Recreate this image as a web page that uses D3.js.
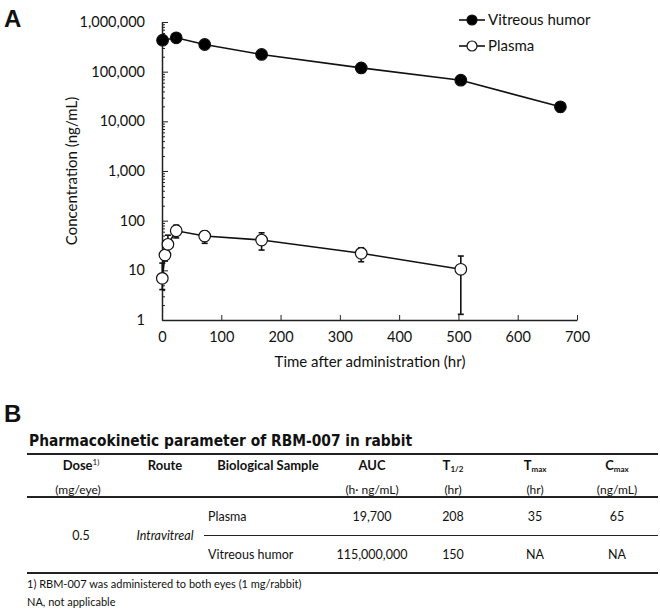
<!DOCTYPE html>
<html><head><meta charset="utf-8">
<script src="https://cdn.jsdelivr.net/npm/d3@7"></script>
<style>body{margin:0;background:#fff}svg{display:block}text{font-family:Lato,"Open Sans",sans-serif;fill:#111}</style>
</head><body>
<svg id="c" width="660" height="610"></svg>
<script>
// ---- data ----
const vitreousTime = [1, 24, 72, 168, 336, 504, 672];
const vitreousConc = [430000, 480000, 352000, 222000, 119000, 67400, 19600];
const vitreousLow  = [430000, 480000, 352000, 222000, 119000, 67400, 15500];
const vitreousHigh = [430000, 480000, 352000, 222000, 119000, 67400, 23000];

const plasmaTime = [0.5, 5, 10, 24, 72, 168, 336, 504];
const plasmaConc = [6.9, 20.3, 33.4, 62.6, 49, 40.7, 22, 10.5];
const plasmaLow  = [4.1, 15.4, 22, 45, 35, 25.6, 14.9, 1.3];
const plasmaHigh = [14, 30, 51, 81, 62, 57, 28.5, 19.4];

const xTicks = [0, 100, 200, 300, 400, 500, 600, 700];
const yTicks = [1, 10, 100, 1000, 10000, 100000, 1000000];
const seriesNames = ["Vitreous humor", "Plasma"];

const tableTitle = "Pharmacokinetic parameter of RBM-007 in rabbit";
const tableSamples = ["Plasma", "Vitreous humor"];
const tableAUC = ["19,700", "115,000,000"];
const tableT12 = ["208", "150"];
const tableTmax = ["35", "NA"];
const tableCmax = ["65", "NA"];
const footnotes = ["1) RBM-007 was administered to both eyes (1 mg/rabbit)", "NA, not applicable"];

// ---- chart ----
const svg = d3.select("#c");
const x = d3.scaleLinear().domain([0, 700]).range([162, 577]);
const y = d3.scaleLog().domain([1, 1e6]).range([320, 22]);

svg.append("text").attr("x", 4).attr("y", 27).attr("font-size", 24).attr("font-weight", "bold")
  .style("font-family", "Liberation Sans, Arial, sans-serif").text("A");

// y axis minor
const minor = y.ticks().filter(v => !yTicks.includes(v));
svg.append("g").attr("transform", "translate(162,0)")
  .call(d3.axisLeft(y).tickValues(minor).tickSizeInner(-3).tickSizeOuter(0).tickFormat(""))
  .call(g => g.select(".domain").remove())
  .selectAll("line").attr("stroke", "#222");
const ya = svg.append("g").attr("transform", "translate(162,0)")
  .call(d3.axisLeft(y).tickValues(yTicks).tickSizeInner(-6).tickSizeOuter(0).tickPadding(17).tickFormat(d3.format(",")));
ya.select(".domain").attr("stroke", "#222").attr("stroke-width", 1.5);
ya.selectAll("line").attr("stroke", "#222");
ya.selectAll("text").attr("font-size", 14.5).style("font-family", "Lato, sans-serif").attr("fill", "#111");

const xa = svg.append("g").attr("transform", "translate(0,320)")
  .call(d3.axisBottom(x).tickValues(xTicks).tickSizeInner(-5).tickSizeOuter(0).tickPadding(12));
xa.select(".domain").attr("stroke", "#222").attr("stroke-width", 1.5);
xa.selectAll("line").attr("stroke", "#222");
xa.selectAll("text").attr("font-size", 14.5).style("font-family", "Lato, sans-serif").attr("fill", "#111");

svg.append("text").attr("x", 370).attr("y", 367).attr("text-anchor", "middle").attr("font-size", 15).text("Time after administration (hr)");
svg.append("text").attr("transform", "translate(77,171) rotate(-90)").attr("text-anchor", "middle").attr("font-size", 15).text("Concentration (ng/mL)");

function drawSeries(t, c, lo, hi, fill) {
  const d = t.map((v, i) => ({t: v, c: c[i], lo: lo[i], hi: hi[i]}));
  const g = svg.append("g");
  d.forEach(p => {
    if (p.lo !== p.c || p.hi !== p.c) {
      g.append("line").attr("x1", x(p.t)).attr("x2", x(p.t)).attr("y1", y(p.lo)).attr("y2", y(p.hi)).attr("stroke", "#111").attr("stroke-width", 1.6);
      [p.lo, p.hi].forEach(v => g.append("line").attr("x1", x(p.t) - 3).attr("x2", x(p.t) + 3).attr("y1", y(v)).attr("y2", y(v)).attr("stroke", "#111").attr("stroke-width", 1.6));
    }
  });
  g.append("path").datum(d).attr("fill", "none").attr("stroke", "#111").attr("stroke-width", 1.6)
    .attr("d", d3.line().x(p => x(p.t)).y(p => y(p.c)));
  g.selectAll("circle").data(d).join("circle").attr("cx", p => x(p.t)).attr("cy", p => y(p.c)).attr("r", 5.8)
    .attr("fill", fill).attr("stroke", "#111").attr("stroke-width", 1.2);
}
drawSeries(plasmaTime, plasmaConc, plasmaLow, plasmaHigh, "#fff");
drawSeries(vitreousTime, vitreousConc, vitreousLow, vitreousHigh, "#000");

// legend
const fills = ["#000", "#fff"];
seriesNames.forEach((n, i) => {
  const ly = 20 + i * 26;
  svg.append("line").attr("x1", 459).attr("x2", 485).attr("y1", ly).attr("y2", ly).attr("stroke", "#111").attr("stroke-width", 1.6);
  svg.append("circle").attr("cx", 472).attr("cy", ly).attr("r", 5).attr("fill", fills[i]).attr("stroke", "#111").attr("stroke-width", 1.2);
  svg.append("text").attr("x", 488).attr("y", ly + 5).attr("font-size", 15).text(n);
});

// ---- table ----
svg.append("text").attr("x", 4).attr("y", 422).attr("font-size", 24).attr("font-weight", "bold")
  .style("font-family", "Liberation Sans, Arial, sans-serif").text("B");
svg.append("text").attr("x", 29).attr("y", 446).attr("font-size", 15).attr("font-weight", "bold")
  .style("font-family", "DejaVu Sans, Verdana, sans-serif").attr("textLength", 383).attr("lengthAdjust", "spacingAndGlyphs").text(tableTitle);

const L = 27, R = 658;
[[454, 2], [497, 2], [573, 2]].forEach(([yy, w]) => svg.append("line").attr("x1", L).attr("x2", R).attr("y1", yy).attr("y2", yy).attr("stroke", "#222").attr("stroke-width", w));
svg.append("line").attr("x1", 204).attr("x2", R).attr("y1", 535.5).attr("y2", 535.5).attr("stroke", "#222").attr("stroke-width", 1);

const hdrY = 470, subY = 494;
function hdr(cx, main, sub, unit) {
  const t = svg.append("text").attr("x", cx).attr("y", hdrY).attr("text-anchor", "middle").attr("font-size", 13).attr("font-weight", "bold");
  t.append("tspan").text(main);
  if (sub) t.append("tspan").attr("font-size", 8).attr("dy", 2).text(sub);
  if (unit) svg.append("text").attr("x", cx).attr("y", subY).attr("text-anchor", "middle").attr("font-size", 12).text(unit);
}
const dh = svg.append("text").attr("x", 81).attr("y", hdrY).attr("text-anchor", "middle").attr("font-size", 13).attr("font-weight", "bold");
dh.append("tspan").text("Dose");
dh.append("tspan").attr("font-size", 8).attr("dy", -5).attr("font-weight", "normal").text("1)");
svg.append("text").attr("x", 78).attr("y", subY).attr("text-anchor", "middle").attr("font-size", 12).text("(mg/eye)");
hdr(165, "Route");
hdr(268, "Biological Sample");
hdr(372, "AUC", null, "(h\u00b7 ng/mL)");
hdr(453, "T", "1/2", "(hr)");
hdr(535, "T", "max", "(hr)");
hdr(617, "C", "max", "(ng/mL)");

const rowY = [521, 559];
svg.append("text").attr("x", 81).attr("y", 540).attr("text-anchor", "middle").attr("font-size", 12.5).text("0.5");
svg.append("text").attr("x", 165).attr("y", 540).attr("text-anchor", "middle").attr("font-size", 12.5).attr("font-style", "italic").text("Intravitreal");
const cols = [[372, tableAUC], [453, tableT12], [535, tableTmax], [617, tableCmax]];
tableSamples.forEach((s, i) => {
  svg.append("text").attr("x", 208).attr("y", rowY[i]).attr("font-size", 12.5).text(s);
  cols.forEach(([cx, arr]) => svg.append("text").attr("x", cx).attr("y", rowY[i]).attr("text-anchor", "middle").attr("font-size", 12.5).text(arr[i]));
});
footnotes.forEach((f, i) => svg.append("text").attr("x", 27).attr("y", 588 + i * 18).attr("font-size", 11).text(f));
</script>
</body></html>
